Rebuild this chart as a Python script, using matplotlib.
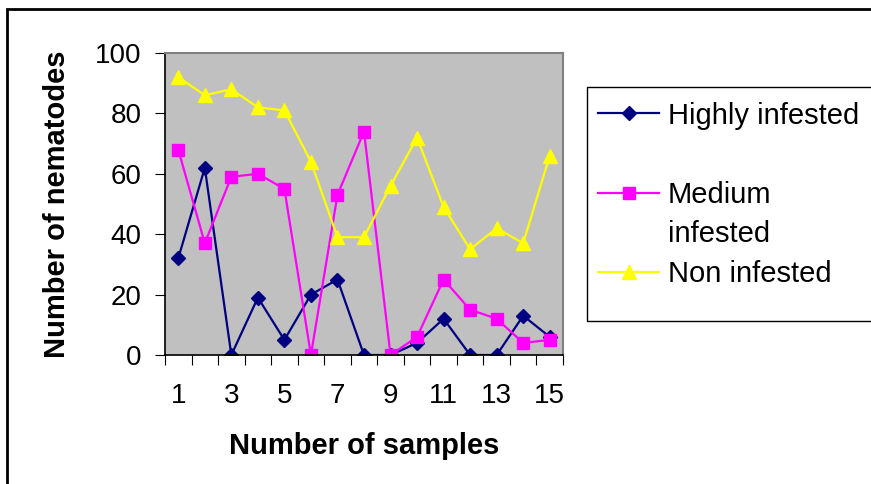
import matplotlib
matplotlib.use("Agg")
import matplotlib.pyplot as plt
from matplotlib.patches import Rectangle
from matplotlib.lines import Line2D

plt.rcParams['font.family'] = ['Liberation Sans', 'DejaVu Sans']

samples = list(range(1, 16))
highly = [32, 62, 0, 19, 5, 20, 25, 0, 0, 4, 12, 0, 0, 13, 6]
medium = [68, 37, 59, 60, 55, 0, 53, 74, 0, 6, 25, 15, 12, 4, 5]
non_inf = [92, 86, 88, 82, 81, 64, 39, 39, 56, 72, 49, 35, 42, 37, 66]
labels = ['Highly infested', 'Medium infested', 'Non infested']
xtick_labels = [1, 3, 5, 7, 9, 11, 13, 15]
ytick_values = [0, 20, 40, 60, 80, 100]

W, H = 871, 484
fig = plt.figure(figsize=(W / 100, H / 100), dpi=100)
ax = fig.add_axes([165 / W, 1 - 355 / H, (563 - 165) / W, (355 - 53) / H])
ax.set_facecolor('#C0C0C0')

h1, = ax.plot(samples, highly, color='#000080', marker='D', ms=7, lw=1.6, label=labels[0])
h2, = ax.plot(samples, medium, color='#FF00FF', marker='s', ms=8, lw=1.6, label=labels[1])
h3, = ax.plot(samples, non_inf, color='#FFFF00', marker='^', ms=9.5, lw=1.6, label=labels[2])

ax.set_xlim(0.5, 15.5)
ax.set_ylim(0, 100)
ax.set_xticks([s + 0.5 for s in range(0, 16)])
ax.set_xticklabels([])
ax.set_xticks(xtick_labels, minor=True)
ax.set_xticklabels([str(v) for v in xtick_labels], minor=True, fontsize=20)
ax.tick_params(axis='x', which='minor', length=0, pad=20)
ax.tick_params(axis='x', which='major', direction='out', length=7, color='black')
ax.set_yticks(ytick_values)
ax.set_yticklabels([str(v) for v in ytick_values], fontsize=20)
ax.tick_params(axis='y', direction='out', length=7, pad=10)

for side in ['top', 'right']:
    ax.spines[side].set_color('#808080')
    ax.spines[side].set_linewidth(1.5)
for side in ['left', 'bottom']:
    ax.spines[side].set_color('black')
    ax.spines[side].set_linewidth(1.2)

ax.set_xlabel('Number of samples', fontsize=21, fontweight='bold', labelpad=17)
ax.set_ylabel('Number of nematodes', fontsize=21, fontweight='bold', labelpad=17)

# legend box like Excel: wrapped label, blank row after the first entry
fig.patches.append(Rectangle((587 / W, 1 - 321 / H), 0.5, (321 - 87) / H,
                             transform=fig.transFigure, fill=False,
                             edgecolor='black', linewidth=1.0))
blank = Line2D([], [], linestyle='none')
leg = ax.legend(handles=[h1, blank, h2, blank, h3],
                labels=['Highly infested', ' ', 'Medium', 'infested', 'Non infested'],
                loc='upper left', bbox_to_anchor=(598 / W, 1 - 101.5 / H),
                bbox_transform=fig.transFigure, borderaxespad=0, borderpad=0,
                fontsize=21, frameon=False, labelspacing=0.4,
                handlelength=2.1, handletextpad=0.3)

# outer chart border
fig.patches.append(Rectangle((7 / W, -0.1), 2, 1 - 9 / H + 0.1, transform=fig.transFigure,
                             fill=False, edgecolor='black', linewidth=2))

fig.savefig('out.png', dpi=100)
